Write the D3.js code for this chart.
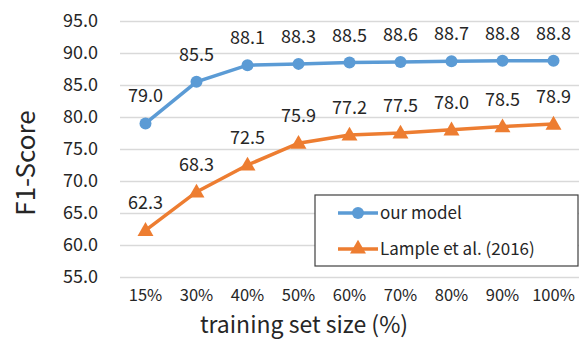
<!DOCTYPE html>
<html>
<head>
<meta charset="utf-8">
<script src="https://cdn.jsdelivr.net/npm/d3@7"></script>
<style>
  body { margin: 0; background: #fff; }
  text { font-family: "Noto Sans CJK SC", "Noto Sans", sans-serif; fill: #262626; }
</style>
</head>
<body>
<div id="viz"></div>
<script>
// data

const sizes = ["15%", "30%", "40%", "50%", "60%", "70%", "80%", "90%", "100%"];
const ourModel = [79.0, 85.5, 88.1, 88.3, 88.5, 88.6, 88.7, 88.8, 88.8];
const lample = [62.3, 68.3, 72.5, 75.9, 77.2, 77.5, 78.0, 78.5, 78.9];
const yTicks = [55, 60, 65, 70, 75, 80, 85, 90, 95];

const seriesList = [
  { name: "our model", values: ourModel, color: "#5B9BD5", marker: "circle" },
  { name: "Lample et al. (2016)", values: lample, color: "#ED7D31", marker: "triangle" }
];

// dimensions

const dms = {
  width: 580,
  height: 339,
  margins: { top: 21, bottom: 62, left: 120, right: 1 }
};
dms.innerWidth = dms.width - dms.margins.left - dms.margins.right;
dms.innerHeight = dms.height - dms.margins.top - dms.margins.bottom;

const svg = d3.select("#viz")
  .append("svg")
    .attr("width", dms.width)
    .attr("height", dms.height);

const g = svg.append("g")
  .attr("transform", `translate(${dms.margins.left},${dms.margins.top})`);

// scales

const xScale = d3.scaleBand()
  .domain(sizes)
  .range([0, dms.innerWidth]);

const yScale = d3.scaleLinear()
  .domain([55, 95])
  .range([dms.innerHeight, 0]);

const xPos = d => xScale(d) + xScale.bandwidth() / 2;

// gridlines + y axis

const yAxis = d3.axisLeft(yScale)
  .tickValues(yTicks)
  .tickSize(-dms.innerWidth)
  .tickPadding(22)
  .tickFormat(d3.format(".1f"));

const yAxisG = g.append("g").call(yAxis);
yAxisG.select(".domain").remove();
yAxisG.selectAll("line").attr("stroke", "#d9d9d9").attr("stroke-width", 1.5);
yAxisG.selectAll("text").style("font-size", "18px").attr("fill", "#262626");

// x axis

const xAxis = d3.axisBottom(xScale).tickSize(0).tickPadding(12);
const xAxisG = g.append("g")
  .attr("transform", `translate(0,${dms.innerHeight})`)
  .call(xAxis);
xAxisG.select(".domain").remove();
xAxisG.selectAll("text").style("font-size", "16.5px").attr("fill", "#262626");

// lines and markers

const line = d3.line()
  .x((d, i) => xPos(sizes[i]))
  .y(d => yScale(d));

const triangle = d3.symbol().type(d3.symbolTriangle).size(110);

seriesList.forEach(s => {
  g.append("path")
    .datum(s.values)
    .attr("fill", "none")
    .attr("stroke", s.color)
    .attr("stroke-width", 3.5)
    .attr("d", line);

  if (s.marker === "circle") {
    g.selectAll(null)
      .data(s.values)
      .join("circle")
        .attr("cx", (d, i) => xPos(sizes[i]))
        .attr("cy", d => yScale(d))
        .attr("r", 6)
        .attr("fill", s.color);
  } else {
    g.selectAll(null)
      .data(s.values)
      .join("path")
        .attr("transform", (d, i) => `translate(${xPos(sizes[i])},${yScale(d) + 1})`)
        .attr("d", triangle)
        .attr("fill", s.color);
  }

  g.selectAll(null)
    .data(s.values)
    .join("text")
      .attr("x", (d, i) => xPos(sizes[i]))
      .attr("y", d => yScale(d) - 21)
      .attr("text-anchor", "middle")
      .style("font-size", "18px")
      .text(d => d.toFixed(1));
});

// axis titles

svg.append("text")
  .attr("x", 304)
  .attr("y", 333)
  .attr("text-anchor", "middle")
  .style("font-size", "23px")
  .text("training set size (%)");

svg.append("text")
  .attr("transform", "translate(35,163) rotate(-90)")
  .attr("text-anchor", "middle")
  .style("font-size", "26px")
  .text("F1-Score");

// legend

const legend = svg.append("g").attr("transform", "translate(315,195)");
legend.append("rect")
  .attr("width", 263)
  .attr("height", 71)
  .attr("fill", "#fff")
  .attr("stroke", "#404040")
  .attr("stroke-width", 1.2);

seriesList.forEach((s, i) => {
  const row = legend.append("g").attr("transform", `translate(0,${18 + i * 36})`);
  row.append("line")
    .attr("x1", 23).attr("x2", 63)
    .attr("stroke", s.color).attr("stroke-width", 3.5);
  if (s.marker === "circle") {
    row.append("circle").attr("cx", 43).attr("r", 6).attr("fill", s.color);
  } else {
    row.append("path").attr("transform", "translate(43,0)").attr("d", triangle).attr("fill", s.color);
  }
  row.append("text")
    .attr("x", 65)
    .attr("dy", "0.35em")
    .style("font-size", "17px")
    .attr("fill", "#595959")
    .text(s.name);
});
</script>
</body>
</html>
